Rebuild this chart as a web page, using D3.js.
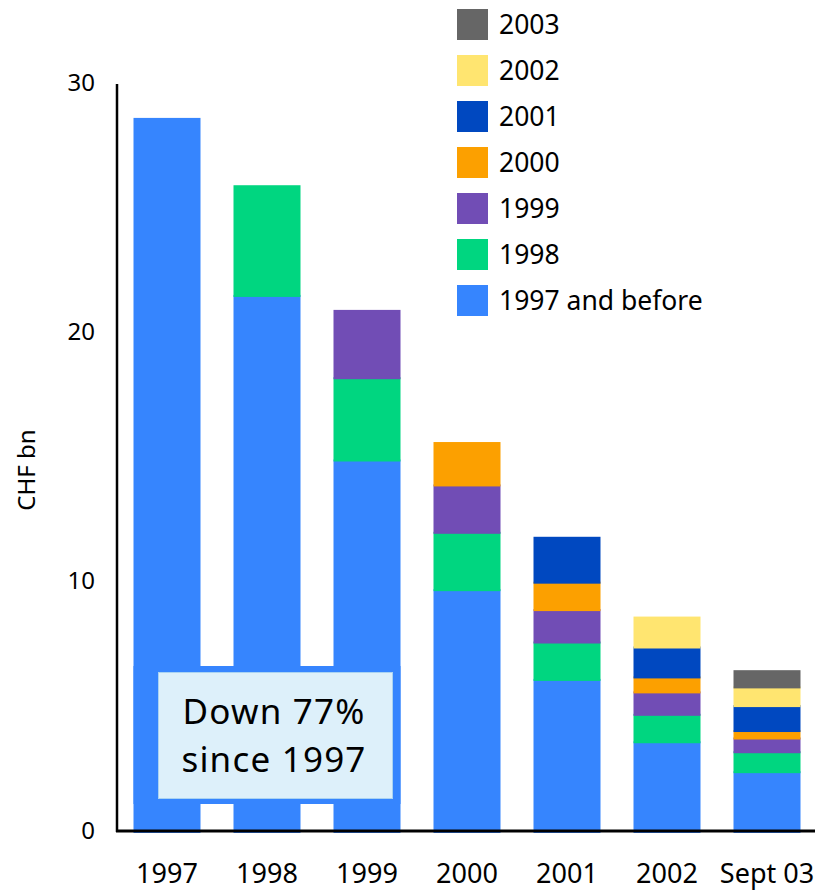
<!DOCTYPE html>
<html>
<head>
<meta charset="utf-8">
<script src="https://cdn.jsdelivr.net/npm/d3@7"></script>
<style>
  html, body { margin: 0; padding: 0; background: #fff; }
  svg { display: block; font-family: "Noto Sans", "Open Sans", sans-serif; }
</style>
</head>
<body>
<svg id="chart" width="822" height="892"></svg>
<script>
// Categories along the x axis
const categories = ["1997", "1998", "1999", "2000", "2001", "2002", "Sept 03"];

// Vintage series (stacked bottom to top), CHF bn
const vintages = ["1997 and before", "1998", "1999", "2000", "2001", "2002", "2003"];
const v1997 = [28.6, 21.5, 14.9, 9.7, 6.1, 3.6, 2.4];
const v1998 = [0, 4.4, 3.3, 2.3, 1.5, 1.1, 0.8];
const v1999 = [0, 0, 2.7, 1.9, 1.3, 0.9, 0.55];
const v2000 = [0, 0, 0, 1.7, 1.1, 0.6, 0.3];
const v2001 = [0, 0, 0, 0, 1.8, 1.2, 1.0];
const v2002 = [0, 0, 0, 0, 0, 1.2, 0.75];
const v2003 = [0, 0, 0, 0, 0, 0, 0.65];

const yTicks = [0, 10, 20, 30];
const colors = ["#3685fe", "#00d680", "#714db5", "#fca000", "#0048c0", "#ffe570", "#666666"];
const annotationLines = ["Down 77%", "since 1997"];

const seriesArrays = [v1997, v1998, v1999, v2000, v2001, v2002, v2003];
const rows = categories.map((c, i) => {
  const r = { category: c };
  vintages.forEach((k, j) => { r[k] = seriesArrays[j][i]; });
  return r;
});

const svg = d3.select("#chart");

const x = d3.scaleBand()
  .domain(categories)
  .range([117, 817])
  .paddingInner(0.33)
  .paddingOuter(0.165);

const y = d3.scaleLinear().domain([0, 30]).range([831, 83]);

const color = d3.scaleOrdinal().domain(vintages).range(colors);

const stacked = d3.stack().keys(vintages)(rows);

// Stacked bars
svg.append("g")
  .selectAll("g")
  .data(stacked)
  .join("g")
  .attr("fill", d => color(d.key))
  .selectAll("rect")
  .data(d => d.filter(p => p[1] - p[0] > 0))
  .join("rect")
  .attr("x", d => x(d.data.category))
  .attr("width", x.bandwidth())
  .attr("y", d => y(d[1]))
  .attr("height", d => y(d[0]) - y(d[1]) + 2);

// Annotation panel across the first three bars
const annLeft = x("1997");
const annRight = x("1999") + x.bandwidth();
svg.append("rect")
  .attr("x", annLeft)
  .attr("y", 666)
  .attr("width", annRight - annLeft)
  .attr("height", 138)
  .attr("fill", colors[0]);

svg.append("rect")
  .attr("x", 158.5)
  .attr("y", 672.5)
  .attr("width", 234)
  .attr("height", 126)
  .attr("fill", "#ddf0fa")
  .attr("stroke", "#a9d3f2")
  .attr("stroke-width", 1);

// Two-line callout
svg.append("g")
  .selectAll("text")
  .data(annotationLines)
  .join("text")
  .attr("x", 274)
  .attr("y", (d, i) => 724 + i * 48)
  .attr("text-anchor", "middle")
  .attr("font-size", 35)
  .attr("letter-spacing", 1.2)
  .attr("fill", "#000")
  .text(d => d);

// Axes
const yAxis = svg.append("g")
  .attr("transform", "translate(117,0)")
  .call(d3.axisLeft(y).tickValues(yTicks).tickSize(0).tickPadding(22));
yAxis.select(".domain").attr("stroke", "#000").attr("stroke-width", 2.5)
  .attr("d", `M0,${y(0) + 1}V84`);
yAxis.selectAll("text").attr("font-size", 24).attr("fill", "#000")
  .attr("dy", "0.3em")
  .attr("font-family", "Noto Sans, Open Sans, sans-serif");

const xAxis = svg.append("g")
  .attr("transform", `translate(0,${y(0)})`)
  .call(d3.axisBottom(x).tickSize(0).tickPadding(33));
xAxis.select(".domain").attr("stroke", "#000").attr("stroke-width", 3)
  .attr("d", "M116,0H815");
xAxis.selectAll("text").attr("font-size", 27).attr("fill", "#000")
  .attr("font-family", "Noto Sans, Open Sans, sans-serif");

// Y axis title
svg.append("text")
  .attr("transform", "translate(35,470) rotate(-90)")
  .attr("text-anchor", "middle")
  .attr("font-size", 24)
  .attr("fill", "#000")
  .text("CHF bn");

// Legend, newest vintage on top
const legendItems = vintages.slice().reverse();
const legend = svg.append("g")
  .selectAll("g")
  .data(legendItems)
  .join("g")
  .attr("transform", (d, i) => `translate(457,${9 + i * 46})`);
legend.append("rect")
  .attr("width", 31)
  .attr("height", 31)
  .attr("fill", d => color(d));
legend.append("text")
  .attr("x", 42)
  .attr("y", 16)
  .attr("dy", "0.35em")
  .attr("font-size", 26.5)
  .attr("fill", "#000")
  .text(d => d);
</script>
</body>
</html>
